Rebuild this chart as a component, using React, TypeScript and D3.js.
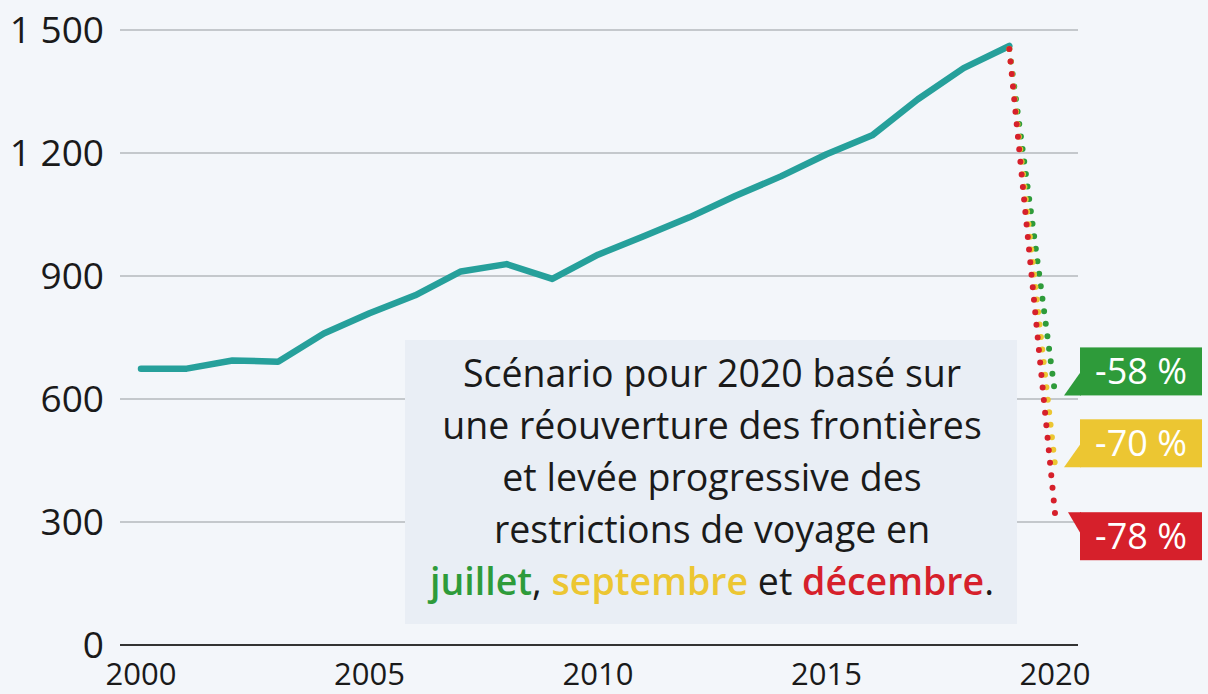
import React, { useEffect, useRef } from "react";
import * as d3 from "d3";

// world tourist arrivals (millions), 2000-2019
const years = [2000, 2001, 2002, 2003, 2004, 2005, 2006, 2007, 2008, 2009, 2010, 2011, 2012, 2013, 2014, 2015, 2016, 2017, 2018, 2019];
const arrivals = [674, 674, 694, 691, 760, 809, 853, 911, 929, 893, 952, 997, 1043, 1095, 1143, 1197, 1243, 1331, 1407, 1461];

// 2020 scenarios
const scenarioNames = ["juillet", "septembre", "décembre"];
const scenarioChange = [-58, -70, -78];
const scenarioColors = ["#2e9b3a", "#ecc632", "#d6202b"];

const yTicks = [0, 300, 600, 900, 1200, 1500];
const xTicks = [2000, 2005, 2010, 2015, 2020];

const noteLines = [
  "Scénario pour 2020 basé sur",
  "une réouverture des frontières",
  "et levée progressive des",
  "restrictions de voyage en",
];

const W = 1208, H = 694;
const FONT = "'Open Sans', 'Noto Sans', sans-serif";

export default function App() {
  const ref = useRef<SVGSVGElement>(null);

  useEffect(() => {
    const svg = d3.select(ref.current);
    svg.selectAll("*").remove();

    svg.append("rect").attr("width", W).attr("height", H).attr("fill", "#f3f6fa");

    const x = d3.scaleLinear().domain([2000, 2020]).range([141, 1055]);
    const y = d3.scaleLinear().domain([0, 1500]).range([645, 30]);
    const fr = d3.formatLocale({ decimal: ",", thousands: " ", grouping: [3], currency: ["", " €"] });
    const fmt = fr.format(",d");

    // gridlines
    svg.append("g")
      .selectAll("line")
      .data(yTicks)
      .enter()
      .append("line")
      .attr("x1", 120)
      .attr("x2", 1078)
      .attr("y1", d => y(d))
      .attr("y2", d => y(d))
      .attr("stroke", d => (d === 0 ? "#333" : "#b5b8bd"))
      .attr("stroke-width", d => (d === 0 ? 2 : 1.5));

    // y labels
    svg.append("g")
      .selectAll("text")
      .data(yTicks)
      .enter()
      .append("text")
      .attr("x", 104)
      .attr("y", d => y(d))
      .attr("dy", "0.36em")
      .attr("text-anchor", "end")
      .attr("font-family", FONT)
      .attr("font-size", 37)
      .attr("fill", "#1a1a1a")
      .text(d => fmt(d));

    // x labels
    svg.append("g")
      .selectAll("text")
      .data(xTicks)
      .enter()
      .append("text")
      .attr("x", d => x(d))
      .attr("y", 685)
      .attr("text-anchor", "middle")
      .attr("font-family", FONT)
      .attr("font-size", 31)
      .attr("fill", "#1a1a1a")
      .text(d => d);

    // note box
    const note = svg.append("g");
    note.append("rect")
      .attr("x", 405).attr("y", 340).attr("width", 612).attr("height", 284)
      .attr("fill", "#e9eef5");
    const cx = 712;
    noteLines.forEach((l, i) => {
      note.append("text")
        .attr("x", cx).attr("y", 387 + i * 52)
        .attr("text-anchor", "middle")
        .attr("font-family", FONT).attr("font-size", 37.5)
        .attr("fill", "#1a1a1a")
        .text(l);
    });
    const last = note.append("text")
      .attr("x", cx).attr("y", 387 + 4 * 52)
      .attr("text-anchor", "middle")
      .attr("font-family", FONT).attr("font-size", 37.5)
      .attr("fill", "#1a1a1a");
    last.append("tspan").attr("fill", scenarioColors[0]).attr("font-weight", 600).text(scenarioNames[0]);
    last.append("tspan").text(", ");
    last.append("tspan").attr("fill", scenarioColors[1]).attr("font-weight", 600).text(scenarioNames[1]);
    last.append("tspan").text(" et ");
    last.append("tspan").attr("fill", scenarioColors[2]).attr("font-weight", 600).text(scenarioNames[2]);
    last.append("tspan").text(".");

    // main line
    const line = d3.line<number>()
      .x((d, i) => x(years[i]))
      .y(d => y(d));
    svg.append("path")
      .datum(arrivals)
      .attr("d", line)
      .attr("fill", "none")
      .attr("stroke", "#26a09b")
      .attr("stroke-width", 6.5)
      .attr("stroke-linejoin", "round")
      .attr("stroke-linecap", "round");

    // scenario dotted lines
    const last19 = arrivals[arrivals.length - 1];
    const ends = scenarioChange.map(c => last19 * (1 + c / 100));
    ends.forEach((v, i) => {
      svg.append("line")
        .attr("x1", x(2019)).attr("y1", y(last19) + 3)
        .attr("x2", x(2020)).attr("y2", y(v))
        .attr("stroke", scenarioColors[i])
        .attr("stroke-width", 6)
        .attr("stroke-linecap", "round")
        .attr("stroke-dasharray", "0 12.6");
    });

    // labels
    const bx = 1080, bw = 122, bh = 48;
    ends.forEach((v, i) => {
      const g = svg.append("g");
      const ey = y(v);
      let top: number;
      if (i < 2) {
        top = ey - bh + 2;
        g.append("path")
          .attr("d", `M${bx + 1},${ey - 22} L${bx + 1},${ey + 2} L${x(2020) + 9},${ey + 2} Z`)
          .attr("fill", scenarioColors[i]);
      } else {
        top = ey - 1;
        g.append("path")
          .attr("d", `M${bx - 12},${top} L${bx + 1},${top} L${bx + 1},${top + 22} Z`)
          .attr("fill", scenarioColors[i]);
      }
      g.append("rect").attr("x", bx).attr("y", top).attr("width", bw).attr("height", bh)
        .attr("fill", scenarioColors[i]);
      g.append("text")
        .attr("x", bx + bw / 2).attr("y", top + bh / 2)
        .attr("dy", "0.36em")
        .attr("text-anchor", "middle")
        .attr("font-family", FONT).attr("font-size", 36)
        .attr("fill", "#fff")
        .text(`${scenarioChange[i]} %`);
    });
  }, []);

  return (
    <svg ref={ref} width={W} height={H} style={{ position: "absolute", left: 0, top: 0 }} />
  );
}
